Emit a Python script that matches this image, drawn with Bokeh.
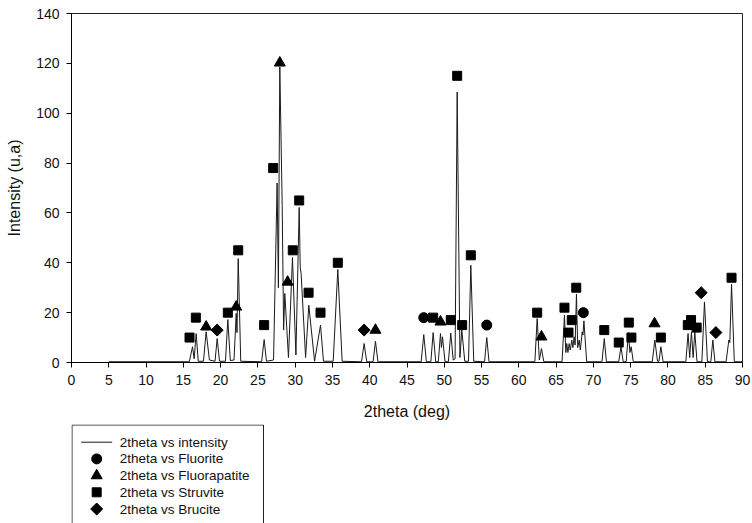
from bokeh.plotting import figure
from bokeh.layouts import column
from bokeh.models import FixedTicker, Range1d
from bokeh.core.properties import value
from bokeh.embed import file_html
from bokeh.resources import INLINE

# ---- diffraction trace (vertices) ----
trace_x = [5.0, 15.8, 16.23, 16.45, 16.72, 17.0, 17.7, 18.06, 18.5, 19.25, 19.54, 19.85,
           20.65, 20.97, 21.3, 21.8, 22.09, 22.2, 22.36, 22.7, 25.5, 25.84, 26.15,
           27.1, 27.58, 27.75, 27.94, 28.26, 28.45, 28.61, 29.1, 29.64, 30.1, 30.54,
           30.68, 30.8, 31.4, 31.83, 32.6, 33.4, 33.8, 35.1, 35.72, 36.3, 38.9, 39.25,
           39.6, 40.45, 40.77, 41.1, 46.9, 47.25, 47.6, 48.2, 48.51, 48.85, 49.2, 49.49,
           49.62, 49.76, 50.1, 50.55, 50.87, 51.2, 51.45, 51.73, 52.1, 52.35, 52.75,
           53.25, 53.56, 53.95, 55.4, 55.7, 56.0, 62.15, 62.46, 62.75, 63.04, 63.35,
           65.8, 66.12, 66.3, 66.43, 66.58, 66.75, 66.9, 67.1, 67.25, 67.42, 67.55,
           67.73, 67.9, 68.1, 68.25, 68.5, 68.6, 68.73, 69.1, 71.15, 71.46, 71.75,
           73.4, 73.7, 74.0, 74.4, 74.7, 74.9, 75.07, 75.35, 77.9, 78.24, 78.6, 78.8,
           79.05, 79.35, 82.4, 82.7, 82.92, 83.15, 83.38, 83.6, 83.9, 84.55, 84.9,
           85.3, 85.75, 86.02, 86.3, 87.8, 88.17, 88.3, 88.53, 88.9, 90.0]
trace_y = [0.3, 0.3, 6.3, 1.5, 11.6, 0.5, 0.5, 12.3, 1.0, 0.5, 9.6, 0.5,
           0.5, 17.2, 0.8, 1.0, 19.7, 12.0, 41.7, 0.5, 0.3, 9.2, 0.5,
           1.0, 72.0, 30.0, 118.6, 63.0, 13.0, 27.7, 2.0, 42.1, 3.0, 62.2,
           38.0, 35.7, 2.0, 23.0, 0.5, 15.0, 0.5, 0.5, 37.3, 0.5, 0.3, 7.6,
           0.3, 0.3, 8.5, 0.3, 0.3, 11.2, 0.3, 0.3, 12.0, 0.3, 0.3, 11.6,
           6.0, 10.3, 0.3, 0.3, 11.8, 1.0, 1.5, 108.5, 2.0, 13.0, 0.5,
           0.5, 39.0, 0.5, 0.3, 10.0, 0.3, 0.3, 17.6, 1.0, 5.6, 0.3,
           0.3, 19.0, 4.0, 7.6, 4.0, 7.6, 5.0, 9.0, 6.0, 10.3, 7.0,
           27.4, 6.0, 9.0, 5.0, 12.3, 11.0, 16.7, 0.3, 0.3, 9.6, 0.3,
           0.3, 6.3, 0.3, 0.3, 12.0, 4.0, 6.3, 0.3, 0.3, 9.0, 0.5, 0.5,
           6.3, 0.3, 0.3, 11.6, 2.0, 12.3, 2.0, 12.3, 0.3, 0.3, 24.3,
           0.3, 0.3, 9.0, 0.3, 0.3, 9.0, 8.0, 31.4, 0.3, 0.3]

# ---- phase markers ----
fluorite_x = [47.25, 55.7, 68.65]
fluorite_y = [18, 15, 20]
fluorapatite_x = [18.06, 22.09, 27.94, 28.99, 40.77, 49.49, 63.04, 78.2]
fluorapatite_y = [14.3, 22.3, 120.2, 32.3, 13, 16.3, 10.3, 15.6]
struvite_x = [15.83, 16.68, 20.97, 22.36, 25.84, 27.05, 29.68, 30.54, 31.8, 33.4, 35.72,
              48.51, 50.87, 51.73, 52.4, 53.56, 62.46, 66.12, 66.66, 67.1, 67.7, 71.46,
              73.4, 74.75, 75.1, 79.05, 82.66, 83.1, 83.85, 88.53]
struvite_y = [10, 18, 20, 45, 15, 78, 45, 65, 28, 20, 40,
              18, 17, 115, 15, 43, 20, 22, 12, 17, 30, 13,
              8, 16, 10, 10, 15, 17, 14, 34]
brucite_x = [19.54, 39.25, 84.46, 86.43]
brucite_y = [13, 13, 28, 12]

x_ticks = [0, 5, 10, 15, 20, 25, 30, 35, 40, 45, 50, 55, 60, 65, 70, 75, 80, 85, 90]
y_ticks = [0, 20, 40, 60, 80, 100, 120, 140]

labels = ["2theta vs intensity", "2theta vs Fluorite", "2theta vs Fluorapatite",
          "2theta vs Struvite", "2theta vs Brucite"]

FONT = "Liberation Sans"
INK = "#111111"

line_style = dict(line_color="#1a1a1a", line_width=1)
mk_fl = dict(marker="circle", size=10, fill_color="black", line_color="black")
mk_fa = dict(marker="triangle", size=11, fill_color="black", line_color="black")
mk_st = dict(marker="square", size=9, fill_color="black", line_color="black")
mk_br = dict(marker="square", size=8.5, angle=0.7853982, fill_color="black",
             line_color="black")

# ---------------- main chart ----------------
p = figure(width=752, height=424, output_backend="svg", toolbar_location=None,
           x_range=Range1d(0, 90), y_range=Range1d(0, 140),
           min_border_left=71, min_border_right=10, min_border_top=13,
           min_border_bottom=62)

p.xgrid.visible = False
p.ygrid.visible = False
p.outline_line_color = "#222222"
p.outline_line_width = 1
p.background_fill_color = "white"
p.border_fill_color = "white"

for ax in (p.xaxis, p.yaxis):
    ax.axis_line_color = "black"
    ax.major_tick_line_color = "black"
    ax.major_tick_out = 5
    ax.major_tick_in = 0
    ax.minor_tick_line_color = None
    ax.major_label_text_font = FONT
    ax.major_label_text_font_size = "14px"
    ax.major_label_text_color = INK
    ax.axis_label_text_font = FONT
    ax.axis_label_text_font_size = "16px"
    ax.axis_label_text_font_style = "normal"
    ax.axis_label_text_color = INK

p.xaxis.ticker = FixedTicker(ticks=x_ticks)
p.yaxis.ticker = FixedTicker(ticks=y_ticks)
p.xaxis.axis_label = "2theta (deg)"
p.yaxis.axis_label = "Intensity (u,a)"
p.xaxis.major_label_standoff = 7
p.xaxis.axis_label_standoff = 15
p.yaxis.major_label_standoff = 7
p.yaxis.axis_label_standoff = 10

p.line(trace_x, trace_y, **line_style)
p.scatter(fluorite_x, fluorite_y, **mk_fl)
p.scatter(fluorapatite_x, fluorapatite_y, **mk_fa)
p.scatter(struvite_x, struvite_y, **mk_st)
p.scatter(brucite_x, brucite_y, **mk_br)

# ---------------- legend strip below the chart ----------------
# the column aligns this strip's frame with the chart frame (page x 71..742),
# so its x range is given in page pixels and its y range in pixels downward.
lg = figure(width=752, height=99, output_backend="svg", toolbar_location=None,
            x_range=Range1d(71, 742), y_range=Range1d(99, 0),
            x_axis_type=None, y_axis_type=None,
            min_border=0, min_border_left=71, min_border_right=10,
            min_border_top=0, min_border_bottom=0)
lg.xgrid.visible = False
lg.ygrid.visible = False
lg.outline_line_color = None
lg.background_fill_color = "white"
lg.border_fill_color = "white"

box_left, box_right, box_top = 71.5, 263, 0.5
row_y = [17.7, 34.4, 51.1, 67.8, 84.5]
key_x0, key_x1, key_xc, text_x = 80.7, 111.7, 96.2, 119.3

lg.line([box_left, box_left, box_right, box_right], [110, box_top, box_top, 110],
        line_color="#222222", line_width=1)
lg.line([key_x0, key_x1], [row_y[0], row_y[0]], **line_style)
lg.scatter([key_xc], [row_y[1]], **mk_fl)
lg.scatter([key_xc], [row_y[2]], **mk_fa)
lg.scatter([key_xc], [row_y[3]], **mk_st)
lg.scatter([key_xc], [row_y[4]], **mk_br)
lg.text(x=[text_x] * len(labels), y=row_y, text=labels,
        text_font=value(FONT), text_font_size="13.5px", text_color=INK,
        text_baseline="middle", text_align="left")

layout = column(p, lg, spacing=0)
open("out.html", "w").write(file_html(layout, INLINE))
